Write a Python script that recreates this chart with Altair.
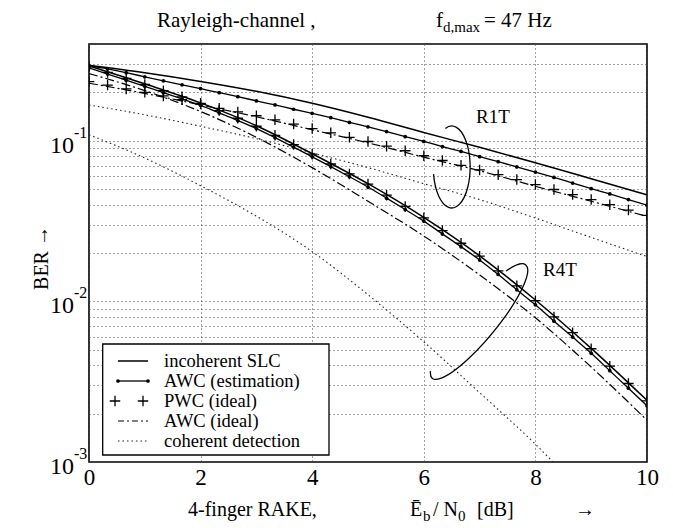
import altair as alt
import pandas as pd

# ---------------- data ----------------
SNR_FINE = [0, 0.333, 0.667, 1, 1.333, 1.667, 2, 2.333, 2.667, 3, 3.333, 3.667,
            4, 4.333, 4.667, 5, 5.333, 5.667, 6, 6.333, 6.667, 7, 7.333, 7.667,
            8, 8.333, 8.667, 9, 9.333, 9.667, 10]
SNR_INT = [0, 1, 2, 3, 4, 5, 6, 7, 8, 9, 10]

# R1T group
SLC_R1T = [0.295, 0.265, 0.234, 0.203, 0.171, 0.140, 0.1125, 0.091, 0.073, 0.058, 0.046]
AWC_EST_R1T = [0.292, 0.280, 0.265, 0.250, 0.236, 0.223, 0.211, 0.199, 0.188, 0.177,
               0.167, 0.157, 0.148, 0.139, 0.130, 0.122, 0.114, 0.106, 0.099, 0.092,
               0.0857, 0.0795, 0.0740, 0.0687, 0.0638, 0.0591, 0.0545, 0.0503, 0.0466,
               0.0430, 0.0397]
PWC_R1T = [0.233, 0.222, 0.210, 0.200, 0.190, 0.180, 0.169, 0.159, 0.151, 0.143,
           0.135, 0.127, 0.119, 0.112, 0.105, 0.0989, 0.0925, 0.0866, 0.0806, 0.0753,
           0.0703, 0.0658, 0.0615, 0.0573, 0.0533, 0.0497, 0.0462, 0.0430, 0.0400,
           0.0370, 0.0343]
AWC_IDEAL_R1T = [0.228, 0.197, 0.167, 0.141, 0.117, 0.097, 0.079, 0.065, 0.052, 0.042, 0.0338]
COH_R1T = [0.167, 0.145, 0.123, 0.103, 0.084, 0.068, 0.054, 0.043, 0.033, 0.025, 0.019]

# R4T group
SLC_R4T = [0.292, 0.226, 0.172, 0.124, 0.083, 0.054, 0.0333, 0.0192, 0.0102, 0.0051, 0.00242]
PWC_R4T = [0.290, 0.266, 0.244, 0.224, 0.205, 0.1875, 0.171, 0.154, 0.138, 0.123,
           0.108, 0.0946, 0.0824, 0.0716, 0.0621, 0.0537, 0.0458, 0.0390, 0.0331, 0.0276,
           0.0230, 0.0191, 0.0155, 0.0125, 0.0101, 0.0080, 0.00638, 0.00507, 0.00395,
           0.00308, 0.0024]
AWC_EST_R4T = [0.284, 0.260, 0.238, 0.218, 0.199, 0.182, 0.166, 0.149, 0.1335, 0.119,
               0.1045, 0.0913, 0.0794, 0.0690, 0.0597, 0.0515, 0.0439, 0.0373, 0.0316, 0.0263,
               0.0219, 0.0181, 0.0147, 0.0118, 0.00952, 0.00753, 0.00599, 0.00475, 0.00370,
               0.00288, 0.00224]
AWC_IDEAL_R4T = [0.262, 0.205, 0.152, 0.105, 0.068, 0.042, 0.0255, 0.0146, 0.0079, 0.0039, 0.00182]
COH_R4T = [0.109, 0.078, 0.0525, 0.0339, 0.0204, 0.011, 0.0056, 0.0027, 0.00129, 0.00056]

X_TICKS = [0, 2, 4, 6, 8, 10]
DECADES = [0.1, 0.01, 0.001]
DECADE_EXP = ["-1", "-2", "-3"]
LEGEND_LABELS = ["incoherent SLC", "AWC (estimation)", "PWC (ideal)", "AWC (ideal)",
                 "coherent detection"]

# ---------------- layout ----------------
W, H = 558, 418
LEFT, TOP = 89, 44
SERIF = "Liberation Serif, Times New Roman, Times, serif"
INK = "black"

GRID_Y = [round(m * d, 4) for d in (0.001, 0.01, 0.1) for m in range(1, 10)] + [0.4]
GRID_Y = [g for g in GRID_Y if g <= 0.4]

xs = alt.Scale(domain=[0, 10], nice=False, zero=False)
ys = alt.Scale(type="log", domain=[0.001, 0.4], nice=False)

x_axis = alt.Axis(values=X_TICKS, grid=True, gridDash=[1, 3], gridColor="#444",
                  gridWidth=1, labelFont=SERIF, labelFontSize=23, labelColor=INK,
                  labelPadding=4, labelFlush=False, domain=False, ticks=False, title=None)
y_axis = alt.Axis(values=GRID_Y, grid=True, gridDash=[1, 3], gridColor="#444",
                  gridWidth=1, labels=False, domain=False, ticks=False, title=None)


def frame(x, y):
    return pd.DataFrame({"snr": x, "ber": y})


def X():
    return alt.X("snr:Q", scale=xs, axis=x_axis)


def Y():
    return alt.Y("ber:Q", scale=ys, axis=y_axis)


layers = []


def line(xv, yv, dash=None, width=1.4, color=INK, interp="monotone"):
    kw = dict(color=color, strokeWidth=width, interpolate=interp, clip=True)
    if dash:
        kw["strokeDash"] = dash
    return alt.Chart(frame(xv, yv)).mark_line(**kw).encode(x=X(), y=Y())


PLUS = "M -1 0 L 1 0 M 0 -1 L 0 1"


def dots(xv, yv):
    return alt.Chart(frame(xv, yv)).mark_point(
        shape="circle", filled=True, size=14, color=INK, opacity=1, clip=True
    ).encode(x=X(), y=Y())


def pluses(xv, yv):
    return alt.Chart(frame(xv, yv)).mark_point(
        shape=PLUS, filled=False, size=110, stroke=INK, strokeWidth=1.3, opacity=1, clip=True
    ).encode(x=X(), y=Y())


COH_DASH = [1.5, 3]
DASHDOT = [9, 3, 2, 3]

# coherent detection
layers.append(line(SNR_INT, COH_R1T, dash=COH_DASH, width=1.1, color="#222"))
layers.append(line(SNR_INT[:len(COH_R4T)], COH_R4T, dash=COH_DASH, width=1.1, color="#222"))
# AWC ideal
layers.append(line(SNR_INT, AWC_IDEAL_R1T, dash=DASHDOT, width=1.2))
layers.append(line(SNR_INT, AWC_IDEAL_R4T, dash=DASHDOT, width=1.2))
# incoherent SLC
layers.append(line(SNR_INT, SLC_R1T, width=1.5))
layers.append(line(SNR_INT, SLC_R4T, width=1.5))
# AWC estimation
layers.append(line(SNR_FINE, AWC_EST_R1T, width=1.3))
layers.append(dots(SNR_FINE, AWC_EST_R1T))
layers.append(line(SNR_FINE, AWC_EST_R4T, width=1.3))
layers.append(dots(SNR_FINE, AWC_EST_R4T))
# PWC ideal
layers.append(pluses(SNR_FINE, PWC_R1T))
layers.append(pluses(SNR_FINE, PWC_R4T))

# group annotations: loops and labels (in data coordinates)
LOOP_SNR = [6.50, 6.99]
LOOP_BER = [0.0686, 0.00748]
LOOP_SHAPE = ["M -0.154 -0.94 A 0.45 1 0 1 1 -0.443 0.174",
              "M -0.661 0.674 A 1 0.24 -50.5 1 0 0.368 -0.689"]
LOOP_SIZE = [6724, 21609]
for i in range(2):
    layers.append(alt.Chart(frame([LOOP_SNR[i]], [LOOP_BER[i]])).mark_point(
        shape=LOOP_SHAPE[i], size=LOOP_SIZE[i], filled=False, stroke=INK,
        strokeWidth=1.3, opacity=1).encode(x=X(), y=Y()))

LBL = pd.DataFrame({"snr": [7.24, 8.44], "ber": [0.141, 0.0156], "t": ["R1T", "R4T"]})
layers.append(alt.Chart(LBL).mark_text(font=SERIF, fontSize=19, color=INK).encode(
    x=X(), y=Y(), text="t:N"))

# y-axis decade labels 10^-k
DEC = pd.DataFrame({"ber": DECADES, "e": DECADE_EXP})
layers.append(alt.Chart(DEC).mark_text(font=SERIF, fontSize=24, align="right",
                                        baseline="middle", dy=5, color=INK).encode(
    x=alt.value(-15), y=Y(), text=alt.value("10")))
layers.append(alt.Chart(DEC).mark_text(font=SERIF, fontSize=16, align="left",
                                        baseline="middle", dy=-8, color=INK).encode(
    x=alt.value(-15), y=Y(), text="e:N"))


def txt(s, px, py, size, align="left", baseline="alphabetic", angle=0):
    return alt.Chart(pd.DataFrame({"t": [s]})).mark_text(
        text=s, font=SERIF, fontSize=size, align=align, baseline=baseline,
        angle=angle, color=INK).encode(x=alt.value(px - LEFT), y=alt.value(py - TOP))


# title
layers.append(txt("Rayleigh-channel ,", 157, 27, 21))
layers.append(txt("f", 436, 27, 21))
layers.append(txt("d,max", 443, 32, 15))
layers.append(txt("= 47 Hz", 484, 27, 21))

# x label
layers.append(txt("4-finger RAKE,", 188, 516, 20))
layers.append(txt("Ē", 410, 516, 20))
layers.append(txt("b", 423, 521, 15))
layers.append(txt("/ N", 433, 516, 20))
layers.append(txt("0", 458, 521, 15))
layers.append(txt("[dB]", 477, 516, 20))
layers.append(txt("→", 575, 516, 20))

# y label
layers.append(txt("BER  →", 42, 258, 20, align="center", baseline="middle", angle=270))

# legend (box, symbols, labels)
layers.append(alt.Chart(pd.DataFrame({"a": [0]})).mark_rect(
    fill="white", stroke=INK, strokeWidth=1.3).encode(
    x=alt.value(13.7), x2=alt.value(240),
    y=alt.value(300), y2=alt.value(411)))

ROWS = [317, 337, 357, 377, 397]
SX0, SX1 = 29, 59


def seg(yv, dash=None, width=1.4, color=INK):
    kw = dict(color=color, strokeWidth=width)
    if dash:
        kw["strokeDash"] = dash
    return alt.Chart(pd.DataFrame({"a": [0]})).mark_rule(**kw).encode(
        x=alt.value(SX0), x2=alt.value(SX1), y=alt.value(yv))


def sym(px, py, shape, size, filled):
    kw = dict(shape=shape, size=size, filled=filled, opacity=1)
    if filled:
        kw["color"] = INK
    else:
        kw["stroke"] = INK
        kw["strokeWidth"] = 1.3
    return alt.Chart(pd.DataFrame({"a": [0]})).mark_point(**kw).encode(
        x=alt.value(px), y=alt.value(py))


layers.append(seg(ROWS[0], width=1.5))
layers.append(seg(ROWS[1], width=1.3))
layers.append(sym(SX0, ROWS[1], "circle", 14, True))
layers.append(sym(SX1, ROWS[1], "circle", 14, True))
layers.append(sym(26, ROWS[2], PLUS, 110, False))
layers.append(sym(54, ROWS[2], PLUS, 110, False))
layers.append(seg(ROWS[3], dash=[6, 3, 2, 3], width=1.2))
layers.append(seg(ROWS[4], dash=COH_DASH, width=1.1, color="#222"))

for lab, row in zip(LEGEND_LABELS, ROWS):
    layers.append(alt.Chart(pd.DataFrame({"t": [lab]})).mark_text(
        text=lab, font=SERIF, fontSize=18.5, align="left", baseline="middle",
        color=INK).encode(x=alt.value(75), y=alt.value(row)))

chart = alt.layer(*layers).properties(
    width=W, height=H,
    padding={"left": LEFT, "top": TOP, "right": 673 - LEFT - W, "bottom": 528 - TOP - H},
    autosize=alt.AutoSizeParams(type="none"),
    background="white",
).configure_view(stroke=INK, strokeWidth=1.6)

chart.save("out.html", embed_options={"renderer": "svg", "actions": False})
